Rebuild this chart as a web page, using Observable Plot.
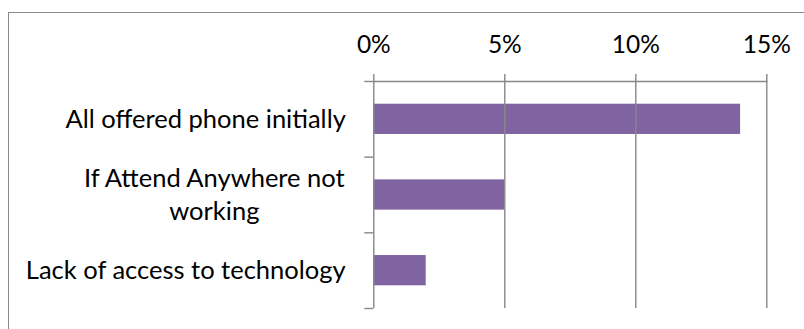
<!DOCTYPE html>
<html>
<head>
<meta charset="utf-8">
<script src="https://cdn.jsdelivr.net/npm/d3@7"></script>
<script src="https://cdn.jsdelivr.net/npm/@observablehq/plot@0.6"></script>
<style>
  html, body { margin: 0; padding: 0; background: #fff; }
  #wrap { position: relative; width: 804px; height: 329px; overflow: hidden; }
  #frame { position: absolute; left: 8px; top: 12px; width: 820px; height: 340px;
           border-top: 1.5px solid #8a8a8a; border-left: 1.5px solid #8a8a8a; pointer-events: none; }
  #chart { position: absolute; left: 0; top: 0; }
</style>
</head>
<body>
<div id="wrap"><div id="chart"></div><div id="frame"></div></div>
<script>
const categories = ["All offered phone initially", "If Attend Anywhere not\nworking", "Lack of access to technology"];
const values = [14, 5, 2];
const xTicks = [0, 5, 10, 15];
const tickLabels = ["0%", "5%", "10%", "15%"];

const fontSize = 25.5;
const tickFontSize = 24.5;
const fontFamily = "Lato";
const gridColor = "#878787";
const barColor = "#8064A2";

const ctx = document.createElement("canvas").getContext("2d");
ctx.font = `${fontSize}px ${fontFamily}`;

const rows = categories.map((c, i) => ({i, label: c, value: values[i]}));
const ticks = xTicks.map((t, i) => ({t, label: tickLabels[i]}));

const labelMarks = rows.map(r => {
  const lines = r.label.split("\n");
  const w = Math.max(...lines.map(l => ctx.measureText(l).width));
  return Plot.text([r], {
    x: () => 0, y: d => d.i + 0.5, text: "label",
    textAnchor: "middle", dx: -28 - w / 2, dy: -2, lineHeight: 1.27,
    fontSize, fill: "#000"
  });
});

const chart = Plot.plot({
  width: 804,
  height: 329,
  marginTop: 81,
  marginBottom: 21,
  marginLeft: 373.3,
  marginRight: 37.7,
  style: {fontFamily, fontSize: fontSize + "px", color: "#000", background: "transparent", overflow: "visible"},
  x: {domain: [0, 15], label: null},
  y: {domain: [0, 3], reverse: true, label: null},
  marks: [
    Plot.rect(rows, {x1: () => 0, x2: "value", y1: d => d.i + 0.3, y2: d => d.i + 0.7, fill: barColor}),
    Plot.ruleX(xTicks, {y1: 0, y2: 3, stroke: gridColor, strokeWidth: 1.4}),
    Plot.ruleY([0], {x1: 0, x2: 15, stroke: gridColor, strokeWidth: 1.4}),
    Plot.axisY({ticks: [0, 1, 2, 3], tickSize: 9, tickFormat: () => "", anchor: "left", label: null, stroke: gridColor, strokeWidth: 1.4}),
    Plot.axisX({anchor: "top", ticks: xTicks, tickSize: 8, label: null,
      tickFormat: () => "", stroke: gridColor, strokeWidth: 1.4}),
    Plot.text(ticks, {x: "t", text: "label", frameAnchor: "top", lineAnchor: "middle", dy: -36,
      fontSize: tickFontSize, fill: "#000"}),
    ...labelMarks
  ]
});
document.getElementById("chart").appendChild(chart);
</script>
</body>
</html>
